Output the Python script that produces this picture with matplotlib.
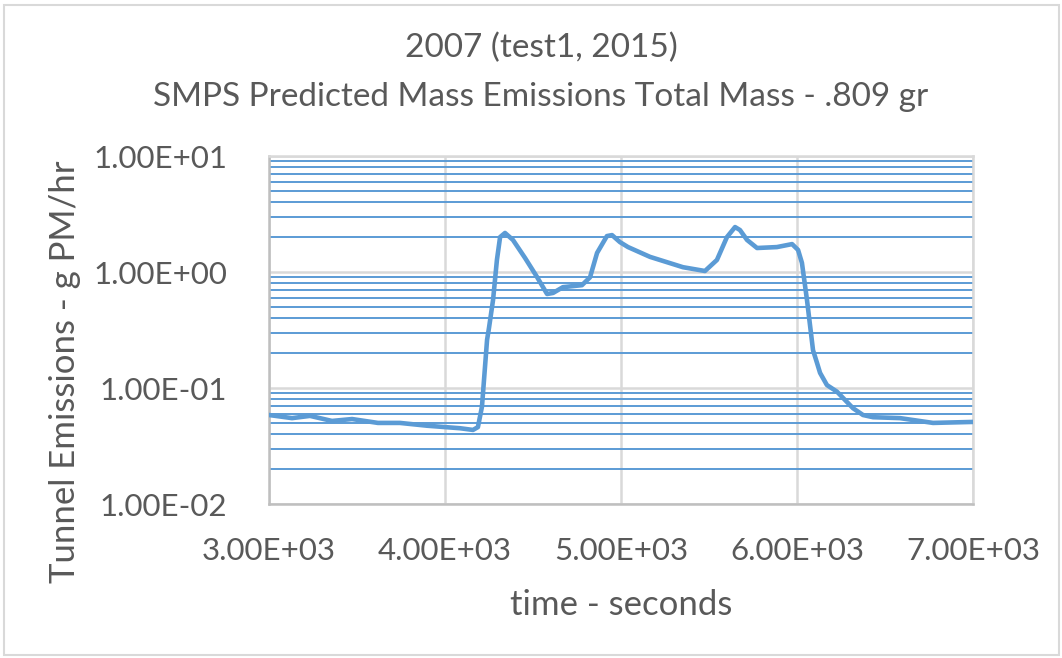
import numpy as np
import matplotlib.pyplot as plt
from matplotlib.ticker import LogLocator, FixedLocator, FuncFormatter
from matplotlib.patches import Rectangle

# time (s) and predicted mass emissions (g PM/hr)
time_s = [3000, 3131, 3233, 3358, 3472, 3619, 3744, 3898, 4085, 4159, 4187,
          4210, 4239, 4250, 4273, 4295, 4313, 4341, 4386, 4455, 4523, 4580,
          4614, 4670, 4778, 4824, 4864, 4920, 4949, 4994, 5040, 5165, 5352,
          5477, 5545, 5602, 5648, 5676, 5716, 5773, 5886, 5972, 6006, 6028,
          6057, 6091, 6114, 6131, 6170, 6227, 6318, 6375, 6432, 6585, 6773,
          7000]
mass_gphr = [0.0585, 0.055, 0.0575, 0.052, 0.054, 0.050, 0.050, 0.0473, 0.045,
             0.0435, 0.046, 0.069, 0.26, 0.33, 0.574, 1.27, 2.0, 2.17, 1.89,
             1.32, 0.905, 0.646, 0.66, 0.74, 0.77, 0.9, 1.46, 2.04, 2.08, 1.81,
             1.64, 1.35, 1.10, 1.02, 1.27, 2.0, 2.44, 2.3, 1.89, 1.61, 1.64,
             1.74, 1.55, 1.2, 0.57, 0.212, 0.164, 0.135, 0.106, 0.093, 0.067,
             0.0585, 0.056, 0.055, 0.05, 0.051]

x_ticks = [3000, 4000, 5000, 6000, 7000]

txt = '#595959'
blue = '#5B9BD5'
grid = '#D9D9D9'
plt.rcParams['font.family'] = ['Lato', 'DejaVu Sans']

fig = plt.figure(figsize=(10.62, 6.58), dpi=100)
ax = fig.add_axes([269/1062, 1-504/658, (973-269)/1062, (504-156)/658])

ax.plot(time_s, mass_gphr, color=blue, lw=3.3, solid_joinstyle='round',
        solid_capstyle='round', zorder=5)

ax.set_yscale('log')
ax.set_ylim(0.01, 10)
ax.set_xlim(3000, 7000)
ax.xaxis.set_major_locator(FixedLocator(x_ticks))
ax.yaxis.set_major_locator(LogLocator(base=10, numticks=10))
ax.yaxis.set_minor_locator(LogLocator(base=10, subs=np.arange(2, 10), numticks=20))
ax.yaxis.set_minor_formatter(FuncFormatter(lambda v, p: ''))
ax.xaxis.set_major_formatter(FuncFormatter(lambda v, p: f'{v:.2E}'))
ax.yaxis.set_major_formatter(FuncFormatter(lambda v, p: f'{v:.2E}'))

ax.grid(True, which='major', axis='both', color=grid, lw=1.8, zorder=1)
ax.grid(True, which='minor', axis='y', color=blue, lw=1.4, zorder=2)
ax.set_axisbelow(True)

ax.tick_params(which='both', length=0, labelsize=22.5, labelcolor=txt)
ax.tick_params(axis='y', pad=30)
ax.tick_params(axis='x', pad=24)
for s in ax.spines.values():
    s.set_color(grid)
    s.set_linewidth(1.8)
ax.spines['left'].set_color('#BFBFBF')
ax.spines['bottom'].set_color('#BFBFBF')

fig.text(541/1062, 1-48/658, '2007 (test1, 2015)', ha='center', va='center',
         fontsize=24, color=txt)
fig.text(541/1062, 1-97/658, 'SMPS Predicted Mass Emissions Total Mass - .809 gr',
         ha='center', va='center', fontsize=24, color=txt)
fig.text(65/1062, 1-372/658, 'Tunnel Emissions - g PM/hr', rotation=90,
         ha='center', va='center', fontsize=25, color=txt)
fig.text(621/1062, 1-605/658, 'time - seconds', ha='center', va='center',
         fontsize=25, color=txt)

fig.patches.append(Rectangle((4/1062, 3/658), 1055/1062, 650/658,
                             transform=fig.transFigure, fill=False,
                             edgecolor=grid, lw=1.5))

plt.savefig('out.png', dpi=100)
